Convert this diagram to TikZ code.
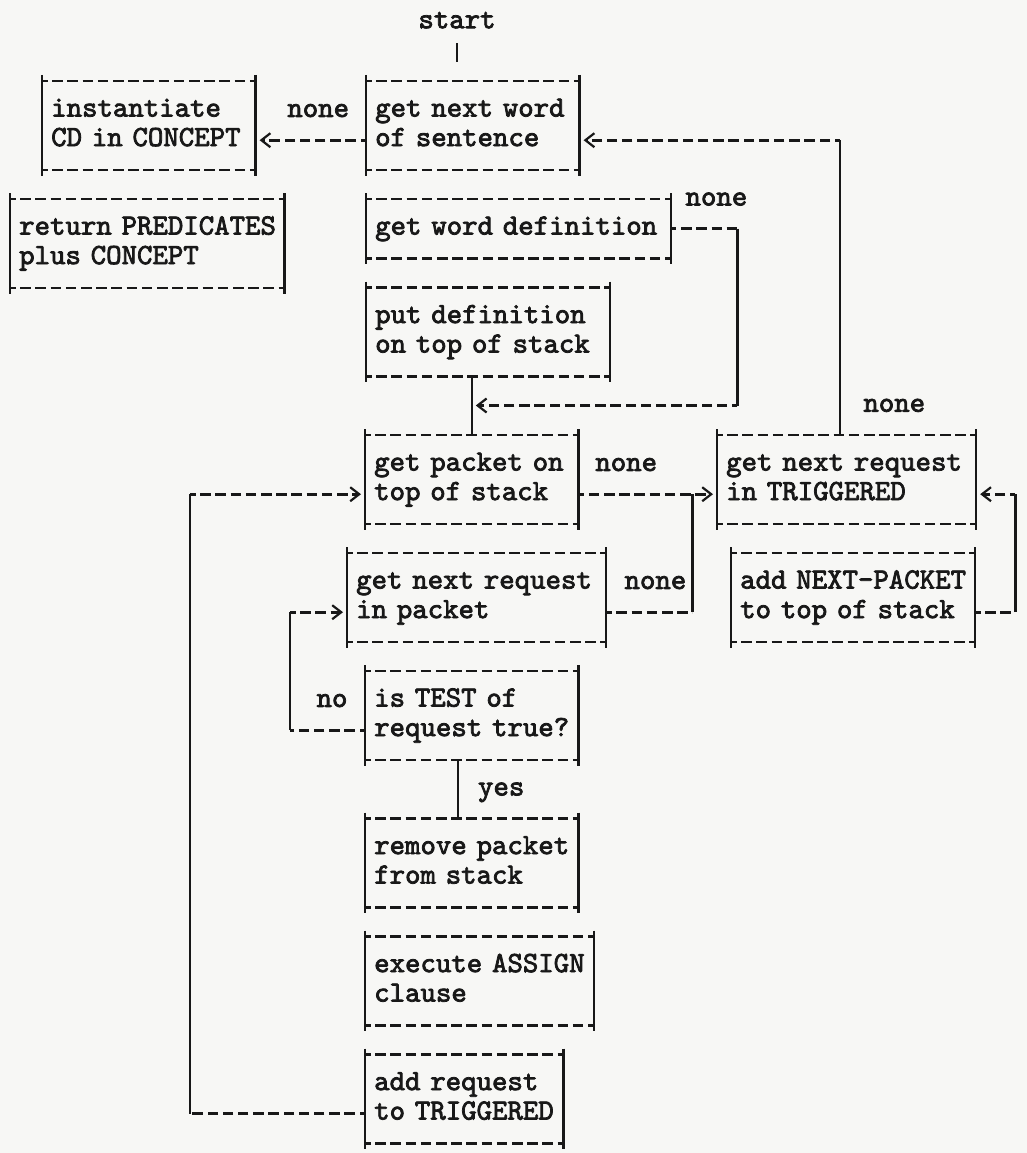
\documentclass[tikz,border=0pt]{standalone}
\usepackage{fontspec}
\setmonofont{lmmono10-regular.otf}[FakeBold=2.6]
\usetikzlibrary{arrows.meta}
\definecolor{ink}{RGB}{24,24,24}
\definecolor{paper}{RGB}{247,247,245}
\newcommand\twfont{\fontsize{29.4}{29.5}\selectfont\ttfamily}
\newcommand\lnst{\rule[-8.85pt]{0pt}{29.5pt}}
\newcommand\bl[1]{\lnst\mbox{#1}}
\begin{document}
\begin{tikzpicture}[x=1pt,y=-1pt,
  box/.style={rectangle, anchor=north west, inner xsep=9pt, inner ysep=14.75pt,
    text width=#1, align=left, font=\twfont, text=ink,
    execute at begin node={\hfuzz=30pt\hbadness=10000}},
  lbl/.style={inner sep=0pt, font=\twfont, text=ink, text height=12.5pt, text depth=0pt},
  hl/.style={draw=ink, line width=2.6pt, dash pattern=on 10.5pt off 4.7pt, dash phase=5pt},
  vl/.style={draw=ink, line width=2.4pt},
  tip/.style={-{Straight Barb[length=9pt,width=14pt,line width=2.2pt]}, shorten >=4pt}]
\fill[paper] (0,0) rectangle (1027,1153);
\useasboundingbox (0,0) rectangle (1027,1153);

% boxes
\node[box=195.2] (inst) at (42,81) {\bl{instantiate}\\\bl{CD in CONCEPT}};
\node[box=256]   (ret)  at (10,199) {\bl{return PREDICATES}\\\bl{plus CONCEPT}};
\node[box=195.2] (gnw)  at (366,81) {\bl{get next word}\\\bl{of sentence}};
\node[box=286.5] (gwd)  at (366,199) {\bl{get word definition}};
\node[box=225.6] (pd)   at (366,287.5) {\bl{put definition}\\\bl{on top of stack}};
\node[box=195.2] (gp)   at (365,435) {\bl{get packet on}\\\bl{top of stack}};
\node[box=240.8] (tr)   at (717,435) {\bl{get next request}\\\bl{in TRIGGERED}};
\node[box=240.8] (gr)   at (347,553) {\bl{get next request}\\\bl{in packet}};
\node[box=225.6] (anp)  at (731,553) {\bl{add NEXT-PACKET}\\\bl{to top of stack}};
\node[box=195.2] (test) at (365,671) {\bl{is TEST of}\\\bl{request true?}};
\node[box=195.2] (rm)   at (365,818.5) {\bl{remove packet}\\\bl{from stack}};
\node[box=210.4] (ex)   at (365,936.5) {\bl{execute ASSIGN}\\\bl{clause}};
\node[box=179.9] (ar)   at (365,1054.5) {\bl{add request}\\\bl{to TRIGGERED}};

\foreach \n in {inst,ret,gnw,gwd,pd,gp,tr,gr,anp,test,rm,ex,ar}{
  \draw[hl] (\n.north west) -- (\n.north east) (\n.south west) -- (\n.south east);
  \draw[vl] ([yshift=6pt]\n.north west) -- ([yshift=-6pt]\n.south west)
            ([yshift=6pt]\n.north east) -- ([yshift=-6pt]\n.south east);
}

% start
\node[lbl] (start) at (457,22) {start};
\draw[vl, shorten <=14.75pt, shorten >=19pt] (start) -- (start |- gnw.north);

% get next word -> instantiate (none)
\coordinate (gnwL2) at ([yshift=-14.75pt]gnw.west);
\coordinate (instR2) at ([yshift=-14.75pt]inst.east);
\draw[hl, tip] (gnwL2) -- (instR2) node[lbl, pos=0.433, yshift=29.5pt] (lnone1) {none};

% TRIGGERED (none) -> get next word
\coordinate (trT) at ([xshift=-6.4pt]tr.north);
\coordinate (gnwR2) at ([yshift=-14.75pt]gnw.east);
\coordinate (k1) at (trT |- gnwR2);
\draw[vl] (trT) -- (k1) node[lbl, pos=0.1, anchor=west, xshift=22pt] (lnone3) {none};
\draw[hl, tip] (k1) -- (gnwR2);

% get word definition (none) -> get packet
\coordinate (k2) at ([xshift=66.5pt]gwd.east);
\coordinate (j1) at ([yshift=29.5pt]gp.north);
\coordinate (k3) at (k2 |- j1);
\draw[hl] (gwd.east) -- (k2) node[lbl, at end, xshift=-21pt, yshift=29.5pt] (lnone2) {none};
\draw[vl] (k2) -- (k3);
\draw[hl, tip] (k3) -- (j1);
\draw[vl] (pd.south -| gp.north) -- (gp.north);

% get packet (none) -> TRIGGERED
\coordinate (gpR2) at ([yshift=-14.75pt]gp.east);
\coordinate (trL2) at ([yshift=-14.75pt]tr.west);
\draw[hl, tip] (gpR2) -- (trL2) node[lbl, pos=0.344, yshift=29.5pt] (lnone4) {none};

% get next request in packet (none) -> joins
\coordinate (grR2) at ([yshift=-14.75pt]gr.east);
\coordinate (k4) at ([xshift=86.2pt]grR2);
\coordinate (k5) at (k4 |- gpR2);
\draw[hl] (grR2) -- (k4) node[lbl, at end, xshift=-37pt, yshift=29.5pt] (lnone5) {none};
\draw[vl] (k4) -- (k5);

% add NEXT-PACKET -> TRIGGERED
\coordinate (anpR2) at ([yshift=-14.75pt]anp.east);
\coordinate (k6) at ([xshift=40.4pt]anpR2);
\coordinate (trR2) at ([yshift=-14.75pt]tr.east);
\coordinate (k7) at (k6 |- trR2);
\draw[hl] (anpR2) -- (k6);
\draw[vl] (k6) -- (k7);
\draw[hl, tip] (k7) -- (trR2);

% test (no) -> get next request in packet
\coordinate (testL2) at ([yshift=-14.75pt]test.west);
\coordinate (k8) at ([xshift=-75pt]testL2);
\coordinate (grL2) at ([yshift=-14.75pt]gr.west);
\coordinate (k9) at (k8 |- grL2);
\draw[hl] (testL2) -- (k8) node[lbl, at start, xshift=-33pt, yshift=29.5pt] (lno) {no};
\draw[vl] (k8) -- (k9);
\draw[hl, tip] (k9) -- (grL2);

% test (yes) -> remove packet
\draw[vl] ([xshift=-13.6pt]test.south) -- ([xshift=-13.6pt]rm.north)
  node[lbl, midway, xshift=43pt] (lyes) {yes};

% add request -> get packet
\coordinate (arL2) at ([yshift=-14.75pt]ar.west);
\coordinate (k10) at ([xshift=-175pt]arL2);
\coordinate (gpL2) at ([yshift=-14.75pt]gp.west);
\coordinate (k11) at (k10 |- gpL2);
\draw[hl] (arL2) -- (k10);
\draw[vl] (k10) -- (k11);
\draw[hl, tip] (k11) -- (gpL2);
\end{tikzpicture}
\end{document}
